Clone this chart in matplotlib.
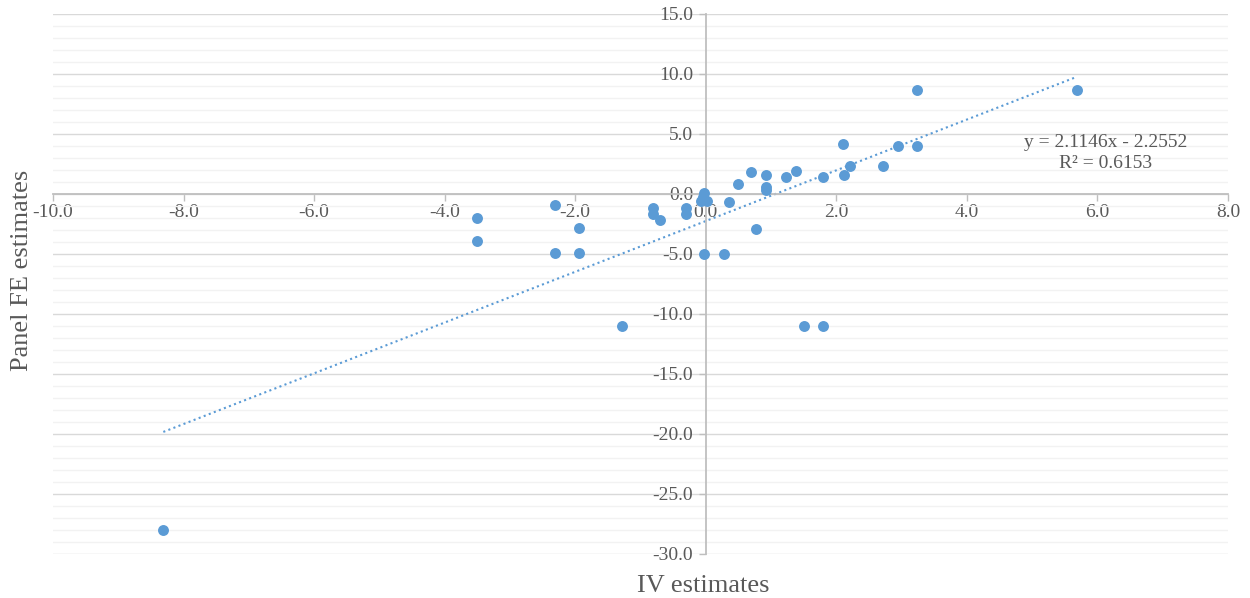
import matplotlib
matplotlib.use("Agg")
import matplotlib.pyplot as plt
import numpy as np
from matplotlib.ticker import MultipleLocator, FormatStrFormatter

iv_estimates = [-8.31, -3.50, -3.50, -2.31, -2.31, -1.94, -1.94, -1.28,
                -0.81, -0.81, -0.70, -0.30, -0.30, -0.02, -0.04, -0.07, 0.02,
                0.36, 0.50, 0.70, 0.77, 0.93, 0.93, 0.92, 1.23, 1.38, 1.51,
                1.79, 1.79, 2.10, 2.12, 2.21, 2.71, 2.95, 3.24, 3.24, 5.68,
                -0.02, 0.28]
fe_estimates = [-28.0, -2.0, -3.9, -0.9, -4.9, -2.8, -4.9, -11.0,
                -1.2, -1.7, -2.2, -1.2, -1.7, 0.05, -0.25, -0.6, -0.6,
                -0.65, 0.83, 1.86, -2.92, 1.56, 0.58, 0.3, 1.44, 1.89, -11.0,
                1.44, -11.0, 4.19, 1.58, 2.36, 2.36, 4.03, 4.03, 8.67, 8.67,
                -5.0, -5.0]

trend_slope = 2.1146
trend_intercept = -2.2552
r_squared = 0.6153

x_label = "IV estimates"
y_label = "Panel FE estimates"

blue = "#5B9BD5"
text_col = "#595959"
serif = ["Liberation Serif", "DejaVu Serif"]

fig = plt.figure(figsize=(12.5, 5.98), dpi=100)
ax = fig.add_axes([0.0424, 0.0736, 0.9400, 0.9030])

ax.set_xlim(-10, 8)
ax.set_ylim(-30, 15)

ax.yaxis.set_major_locator(MultipleLocator(5))
ax.yaxis.set_minor_locator(MultipleLocator(1))
ax.xaxis.set_major_locator(MultipleLocator(2))
ax.xaxis.set_major_formatter(FormatStrFormatter("%.1f"))
ax.yaxis.set_major_formatter(FormatStrFormatter("%.1f"))

ax.grid(axis="y", which="major", color="#D9D9D9", lw=1.0, zorder=0)
ax.grid(axis="y", which="minor", color="#F2F2F2", lw=1.0, zorder=0)
ax.set_axisbelow(True)

for s in ["top", "right"]:
    ax.spines[s].set_visible(False)
ax.spines["left"].set_position(("data", 0))
ax.spines["bottom"].set_position(("data", 0))
for s in ["left", "bottom"]:
    ax.spines[s].set_color("#BFBFBF")
    ax.spines[s].set_linewidth(1.3)

ax.tick_params(axis="both", which="major", length=5, width=1, color="#BFBFBF",
               labelcolor=text_col, labelsize=14, direction="out")
ax.tick_params(axis="y", which="minor", length=0)
ax.tick_params(axis="x", pad=2)
ax.tick_params(axis="y", pad=4)
for lab in ax.get_xticklabels() + ax.get_yticklabels():
    lab.set_family(serif)

ax.scatter(iv_estimates, fe_estimates, s=62, color=blue, zorder=3, linewidths=0)

xs = np.array([min(iv_estimates), max(iv_estimates)])
ax.plot(xs, trend_slope * xs + trend_intercept, color=blue, lw=1.5,
        linestyle=(0, (1, 1.6)), zorder=2)

ax.text(6.12, 3.45, f"y = {trend_slope}x - {abs(trend_intercept)}\nR² = {r_squared}",
        ha="center", va="center", fontsize=14, color=text_col, family=serif,
        linespacing=1.3)

fig.text(0.5624, 0.020, x_label, ha="center", va="center", fontsize=19,
         color=text_col, family=serif)
fig.text(0.018, 0.548, y_label, ha="center", va="center", rotation=90,
         fontsize=19, color=text_col, family=serif)

fig.savefig("out.png", dpi=100)
